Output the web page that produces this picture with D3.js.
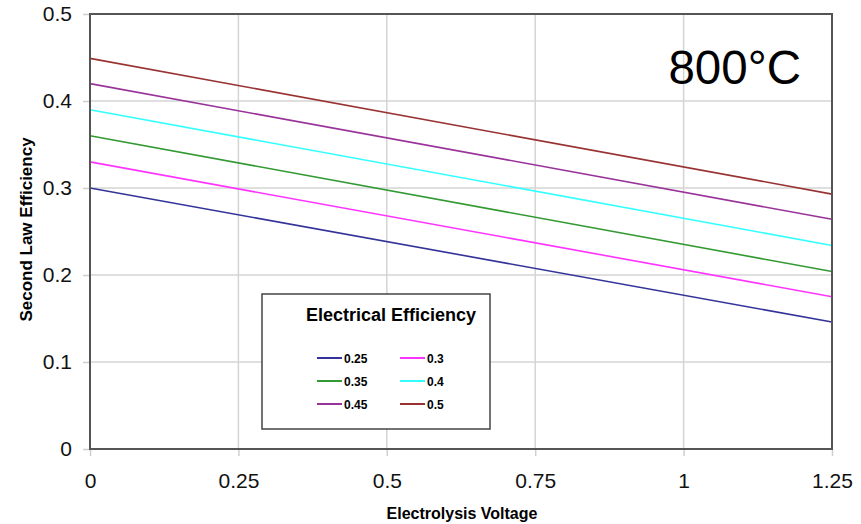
<!doctype html>
<html lang="en">
<head>
<meta charset="UTF-8">
<title>Second Law Efficiency 800°C</title>
<style>
  body { margin: 0; background: #fff; }
  svg { font-family: "Liberation Sans", Arial, sans-serif; }
</style>
</head>
<body>
<script src="https://d3js.org/d3.v7.min.js"></script>
<script>
// data (straight lines, ends at 0 and 1.25 V)
var voltages = [0, 1.25];
var efficiencies = ["0.25", "0.3", "0.35", "0.4", "0.45", "0.5"];
var eff025 = [0.300, 0.146];
var eff030 = [0.330, 0.175];
var eff035 = [0.360, 0.204];
var eff040 = [0.390, 0.234];
var eff045 = [0.420, 0.264];
var eff050 = [0.449, 0.293];
var xTicks = [0, 0.25, 0.5, 0.75, 1, 1.25];
var yTicks = [0, 0.1, 0.2, 0.3, 0.4, 0.5];
var colors = ["#333399", "#ff33ff", "#339933", "#33ffff", "#993399", "#993333"];

var series = [eff025, eff030, eff035, eff040, eff045, eff050];

var width = 861, height = 524;
var margin = {left: 90, right: 29, top: 14, bottom: 75};

var svg = d3.select("body").append("svg")
    .attr("width", width)
    .attr("height", height);

var x = d3.scaleLinear().domain([0, 1.25]).range([margin.left, width - margin.right]);
var y = d3.scaleLinear().domain([0, 0.5]).range([height - margin.bottom, margin.top]);

// grid
svg.append("g").selectAll("line")
    .data(xTicks)
    .enter().append("line")
        .attr("x1", d => x(d)).attr("x2", d => x(d))
        .attr("y1", y(0)).attr("y2", y(0.5))
        .attr("stroke", "#d4d4d4").attr("stroke-width", 1.5);
svg.append("g").selectAll("line")
    .data(yTicks)
    .enter().append("line")
        .attr("x1", x(0)).attr("x2", x(1.25))
        .attr("y1", d => y(d)).attr("y2", d => y(d))
        .attr("stroke", "#d4d4d4").attr("stroke-width", 1.5);

// axes
var xAxis = d3.axisBottom(x).tickValues(xTicks).tickSize(7).tickPadding(17)
    .tickFormat(d => String(d));
var yAxis = d3.axisLeft(y).tickValues(yTicks).tickSize(7).tickPadding(11)
    .tickFormat(d => String(d));

var gx = svg.append("g").attr("transform", "translate(0," + y(0) + ")").call(xAxis);
var gy = svg.append("g").attr("transform", "translate(" + x(0) + ",0)").call(yAxis);
[gx, gy].forEach(function(g) {
    g.select(".domain").remove();
    g.selectAll(".tick line").attr("stroke", "#cfcfcf").attr("stroke-width", 1.5);
    g.selectAll(".tick text").attr("font-size", 21).attr("fill", "#111")
        .attr("font-family", "'Liberation Sans', Arial, sans-serif");
});

// series lines
var line = d3.line()
    .x((d, i) => x(voltages[i]))
    .y(d => y(d));

svg.append("g").selectAll("path")
    .data(series)
    .enter().append("path")
        .attr("d", line)
        .attr("fill", "none")
        .attr("stroke", (d, i) => colors[i])
        .attr("stroke-width", 1.6);

// frame
svg.append("rect")
    .attr("x", x(0)).attr("y", y(0.5))
    .attr("width", x(1.25) - x(0)).attr("height", y(0) - y(0.5))
    .attr("fill", "none").attr("stroke", "#555").attr("stroke-width", 2);

// axis titles
svg.append("text")
    .attr("x", 462).attr("y", 519)
    .attr("text-anchor", "middle")
    .attr("font-size", 16).attr("font-weight", "bold")
    .text("Electrolysis Voltage");

svg.append("text")
    .attr("transform", "translate(32," + (y(0.25) - 2) + ")rotate(-90)")
    .attr("text-anchor", "middle")
    .attr("font-size", 17).attr("font-weight", "bold")
    .text("Second Law Efficiency");

// temperature label
svg.append("text")
    .attr("x", 801).attr("y", 84)
    .attr("text-anchor", "end")
    .attr("font-size", 47.5)
    .text("800°C");

// legend
var legend = svg.append("g");
legend.append("rect")
    .attr("x", 262).attr("y", 294)
    .attr("width", 228).attr("height", 135)
    .attr("fill", "#fff").attr("stroke", "#444").attr("stroke-width", 1.5);
legend.append("text")
    .attr("x", 391).attr("y", 321)
    .attr("text-anchor", "middle")
    .attr("font-size", 18).attr("font-weight", "bold")
    .text("Electrical Efficiency");

var item = legend.selectAll(".item")
    .data(efficiencies)
    .enter().append("g")
        .attr("class", "item")
        .attr("transform", (d, i) => "translate(" + (i % 2 === 0 ? 317 : 400) + "," + (358 + Math.floor(i / 2) * 23) + ")");
item.append("line")
    .attr("x1", 0).attr("x2", 25)
    .attr("stroke", (d, i) => colors[i]).attr("stroke-width", 2);
item.append("text")
    .attr("x", 27).attr("y", 4.5)
    .attr("font-size", 12).attr("font-weight", "bold")
    .text(d => d);
</script>
</body>
</html>
